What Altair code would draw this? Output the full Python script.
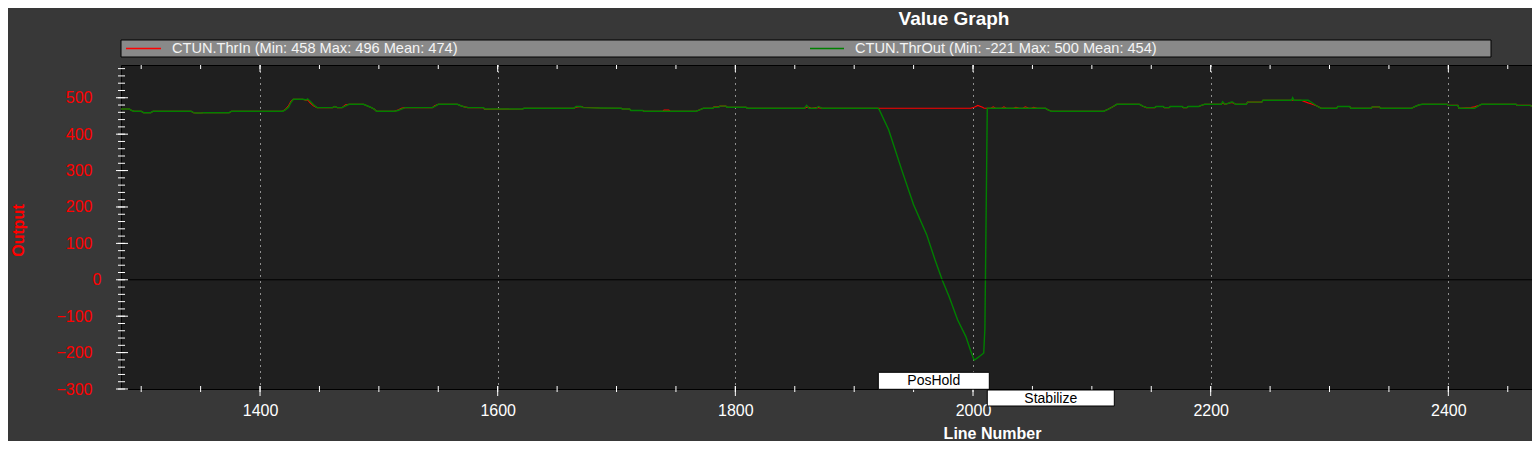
import altair as alt
import pandas as pd

FONT = "Liberation Sans"

series_names = ["CTUN.ThrIn", "CTUN.ThrOut"]
series_colors = ["#ff0000", "#008000"]
series_min = [458, -221]
series_max = [496, 500]
series_mean = [474, 454]

line_number = [
    1283, 1290, 1292, 1294, 1300, 1302, 1308, 1310, 1342, 1344, 1346, 1351, 1352, 1374, 1376,
    1419, 1421, 1424, 1426, 1428, 1436, 1439, 1440, 1442, 1445, 1448, 1461, 1463, 1465, 1469,
    1472, 1475, 1487, 1490, 1493, 1496, 1498, 1513, 1516, 1519, 1522, 1545, 1547, 1550, 1566,
    1569, 1572, 1575, 1588, 1589, 1621, 1622, 1664, 1666, 1670, 1672, 1686, 1704, 1705, 1711,
    1712, 1722, 1723, 1739, 1740, 1744, 1745, 1767, 1770, 1773, 1781, 1782, 1786, 1787, 1792,
    1793, 1809, 1810, 1858, 1860, 1862, 1864, 1868, 1870, 1873, 1920, 1921, 1929, 1940, 1950,
    1961, 1968, 1974, 1980, 1987, 1994, 1998, 2001, 2004, 2008, 2009, 2010, 2012, 2015, 2017,
    2019, 2024, 2026, 2028, 2034, 2036, 2039, 2042, 2044, 2047, 2049, 2051, 2054, 2061, 2063,
    2066, 2110, 2114, 2118, 2121, 2140, 2143, 2146, 2153, 2154, 2160, 2161, 2165, 2166, 2176,
    2177, 2180, 2181, 2190, 2192, 2195, 2209, 2210, 2212, 2215, 2218, 2221, 2230, 2231, 2243,
    2244, 2268, 2269, 2270, 2276, 2282, 2285, 2289, 2293, 2306, 2307, 2317, 2318, 2335, 2336,
    2342, 2343, 2369, 2372, 2375, 2378, 2399, 2400, 2408, 2409, 2419, 2422, 2424, 2426, 2428,
    2457, 2458, 2469, 2471,
]
thr_out = [
    469, 469, 465, 463, 463, 459, 459, 463, 463, 459, 458, 458, 459, 459, 463,
    463, 466, 474, 487, 496, 496, 494, 497, 491, 481, 473, 473, 476, 473, 473,
    478, 482, 482, 478, 474, 469, 463, 463, 465, 469, 473, 473, 476, 482, 482,
    478, 475, 473, 473, 469, 469, 471, 471, 476, 476, 473, 472, 471, 469, 469,
    465, 465, 463, 463, 463, 463, 463, 463, 467, 471, 471, 474, 474, 477, 477,
    474, 474, 471, 471, 479, 471, 471, 471, 476, 471, 471, 468, 412, 302, 206,
    124, 55, 0, -47, -110, -156, -195, -221, -214, -204, -201, -134, 471, 471, 471,
    471, 471, 471, 471, 471, 471, 471, 471, 471, 471, 471, 471, 471, 471, 467,
    463, 463, 469, 476, 482, 482, 477, 473, 473, 476, 476, 473, 473, 476, 476,
    473, 473, 476, 476, 479, 482, 482, 489, 482, 485, 489, 482, 482, 488, 488,
    493, 493, 500, 493, 493, 493, 487, 478, 471, 471, 476, 476, 471, 471, 475,
    475, 471, 471, 476, 480, 482, 482, 479, 479, 471, 471, 471, 475, 479, 482,
    482, 479, 479, 476,
]
thr_in = [
    469, 469, 465, 463, 463, 459, 459, 463, 463, 459, 458, 458, 459, 459, 463,
    463, 467, 478, 490, 496, 496, 493, 495, 487, 478, 473, 473, 476, 473, 473,
    481, 482, 482, 478, 474, 469, 463, 463, 466, 471, 473, 473, 478, 482, 482,
    478, 475, 473, 473, 468, 469, 471, 471, 474, 476, 474, 472, 471, 469, 469,
    465, 465, 463, 463, 466, 466, 463, 463, 467, 471, 471, 475, 475, 477, 477,
    474, 474, 471, 471, 474, 474, 471, 473, 473, 471, 471, 471, 471, 471, 471,
    471, 471, 471, 471, 471, 471, 471, 474, 479, 474, 472, 471, 471, 471, 475,
    471, 471, 475, 471, 471, 474, 471, 471, 475, 471, 471, 474, 471, 471, 467,
    463, 463, 469, 476, 482, 482, 477, 473, 473, 476, 476, 473, 473, 476, 476,
    473, 473, 476, 476, 479, 482, 482, 486, 482, 485, 487, 482, 482, 488, 488,
    493, 493, 493, 493, 493, 486, 483, 478, 471, 471, 476, 476, 471, 471, 475,
    475, 471, 471, 476, 480, 482, 482, 479, 479, 471, 473, 475, 477, 479, 482,
    482, 479, 479, 476,
]

mode_names = ["PosHold", "Stabilize"]
mode_start = [1920.3, 2012.0]
mode_end = [2013.7, 2118.9]

x_major = [1400, 1600, 1800, 2000, 2200, 2400]
x_minor = list(range(1300, 2470, 50))
y_major = [-300, -200, -100, 0, 100, 200, 300, 400, 500]
y_minor = list(range(-300, 590, 20))

PW, PH = 1411, 324
xs = alt.Scale(domain=[1283.0, 2470.4], nice=False, zero=False)
ys = alt.Scale(domain=[-300, 590], nice=False, zero=False)

n = len(line_number)
df = pd.DataFrame({
    "line": line_number * 2,
    "value": thr_in + thr_out,
    "series": [series_names[0]] * n + [series_names[1]] * n,
})

x_axis = alt.Axis(
    values=x_major, format="d", grid=True, gridColor="#ffffff", gridDash=[1, 5], gridWidth=1,
    gridOpacity=1, ticks=False, tickSize=0, domain=False, labelColor="#ffffff", labelFont=FONT,
    labelFontSize=16, labelPadding=13, labelFlush=False, title="Line Number", titleColor="#ffffff",
    titleFont=FONT, titleFontSize=16, titleFontWeight="bold", titleX=871, titleY=44,
    titleAlign="center", titleBaseline="middle",
)
y_axis = alt.Axis(
    values=y_major, grid=False, ticks=False, tickSize=0, domain=False, labelColor="#ff0000",
    labelFont=FONT, labelFontSize=16, labelPadding=29,
    labelAlign={"condition": {"test": "datum.value == 0", "value": "left"}, "value": "right"},
    title="Output", titleColor="#ff0000", titleFont=FONT, titleFontSize=16, titleFontWeight="bold",
    titleX=-103, titleY=165, titleAngle=270, titleAlign="center", titleBaseline="middle",
)

base = alt.Chart(df)
red_axes = base.transform_filter(alt.datum.series == series_names[0]).mark_line(
    color=series_colors[0], strokeWidth=1.1, clip=True
).encode(x=alt.X("line:Q", scale=xs, axis=x_axis), y=alt.Y("value:Q", scale=ys, axis=y_axis), order="line:Q")
green = base.transform_filter(alt.datum.series == series_names[1]).mark_line(
    color=series_colors[1], strokeWidth=1.4, clip=True
).encode(x=alt.X("line:Q", scale=xs), y=alt.Y("value:Q", scale=ys), order="line:Q")

zero_df = pd.DataFrame({"v": [0]})
zero = alt.Chart(zero_df).mark_rule(color="#000000", strokeWidth=1).encode(
    y=alt.Y("v:Q", scale=ys)
)

xt = pd.DataFrame({"v": x_minor + x_major, "major": [False] * len(x_minor) + [True] * len(x_major)})
yt = pd.DataFrame({"v": y_minor + y_major, "major": [False] * len(y_minor) + [True] * len(y_major)})
tick_color = "#ffffff"


def xtick(major, y0, y1):
    return alt.Chart(xt).transform_filter(alt.datum.major == major).mark_rule(color=tick_color).encode(
        x=alt.X("v:Q", scale=xs), y=alt.value(y0), y2=alt.value(y1)
    )


def ytick(major, x0, x1):
    return alt.Chart(yt).transform_filter(alt.datum.major == major).mark_rule(color=tick_color).encode(
        y=alt.Y("v:Q", scale=ys), x=alt.value(x0), x2=alt.value(x1)
    )


ticks = [
    xtick(False, PH - 3, PH + 3), xtick(True, PH - 3, PH + 7),
    xtick(False, 0, 4), xtick(True, 0, 7),
    ytick(False, -3, 4), ytick(True, -5, 7),
]

modes_df = pd.DataFrame({"mode": mode_names, "start": mode_start, "end": mode_end})
mode_layers = []
for i, (yy0, yy1) in enumerate([(307.3, 324.3), (325, 341)]):
    sub = alt.Chart(modes_df).transform_filter(alt.datum.mode == mode_names[i])
    mode_layers.append(sub.mark_rect(fill="#ffffff", stroke="#000000", strokeWidth=1).encode(
        x=alt.X("start:Q", scale=xs), x2="end:Q", y=alt.value(yy0), y2=alt.value(yy1)
    ))
    mode_layers.append(sub.transform_calculate(mid="(datum.start + datum.end) / 2").mark_text(
        font=FONT, fontSize=14, color="#000000", align="center", baseline="middle"
    ).encode(x=alt.X("mid:Q", scale=xs), y=alt.value((yy0 + yy1) / 2 + 0.5), text="mode:N"))

leg_df = pd.DataFrame({
    "series": series_names,
    "label": [f"{s} (Min: {a} Max: {b} Mean: {c})" for s, a, b, c in zip(series_names, series_min, series_max, series_mean)],
})
legend_layers = [
    alt.Chart(leg_df.head(1)).mark_rect(fill="#898989", stroke="#000000", strokeWidth=1).encode(
        x=alt.value(0), x2=alt.value(1370), y=alt.value(-25), y2=alt.value(-8)
    )
]
for i, (lx0, lx1, tx) in enumerate([(5, 40, 51), (689, 723, 734)]):
    sub = alt.Chart(leg_df).transform_filter(alt.datum.series == series_names[i])
    legend_layers.append(sub.mark_rule(color=series_colors[i], strokeWidth=1.3).encode(
        x=alt.value(lx0), x2=alt.value(lx1), y=alt.value(-16.5)
    ))
    legend_layers.append(sub.mark_text(
        font=FONT, fontSize=14.6, color="#f4f4f4", align="left", baseline="middle"
    ).encode(x=alt.value(tx), y=alt.value(-16), text="label:N"))

title_df = pd.DataFrame({"t": ["Value Graph"]})
title = alt.Chart(title_df).mark_text(
    font=FONT, fontSize=19, fontWeight="bold", color="#ffffff", align="center", baseline="top"
).encode(x=alt.value(833), y=alt.value(-55), text="t:N")

chart = alt.layer(
    red_axes, green, zero, *ticks, *mode_layers, *legend_layers, title
).properties(
    width=PW, height=PH,
    padding={"left": 113, "top": 57, "right": 0, "bottom": 52},
    autosize=alt.AutoSizeParams(type="none"),
    background="#383838",
).configure_view(
    fill="#1f1f1f", stroke="#000000", strokeWidth=1
)

chart.save("out.html", embed_options={"renderer": "svg", "actions": False})
